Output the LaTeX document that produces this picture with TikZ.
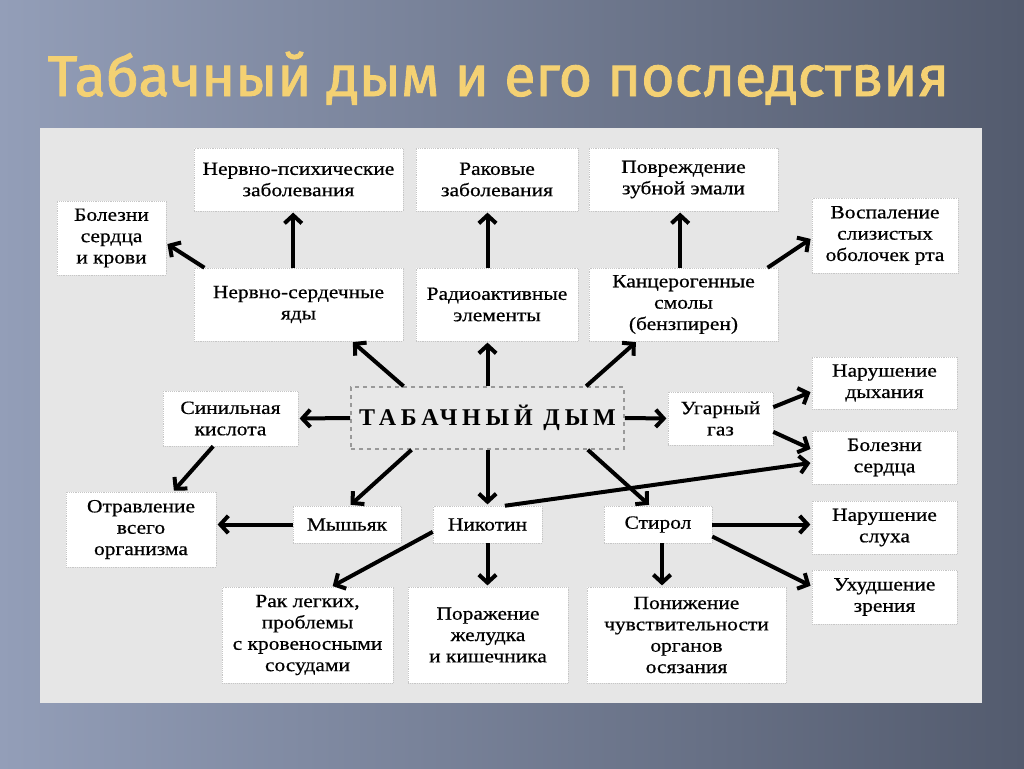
\documentclass[tikz,border=0pt]{standalone}
\usepackage{fontspec}
\setmainfont{Liberation Serif}[FakeStretch=1.15, FakeBold=0.6]
\newfontfamily\titlefont{Fira Sans}[FakeBold=1.5]
\newfontfamily\dymfont{Liberation Serif}[LetterSpace=20]
\usetikzlibrary{arrows.meta}

\definecolor{slidelight}{HTML}{939EB8}
\definecolor{slidedark}{HTML}{535B6E}
\definecolor{panelgray}{HTML}{E6E6E6}
\definecolor{titlegold}{HTML}{F4D173}

\tikzset{
  box/.style={draw=gray!45, densely dotted, fill=white, align=center, inner sep=1pt,
    font=\fontsize{14}{16}\selectfont},
  arr/.style={line width=3pt, -{Straight Barb[length=6pt,width=13pt]}, shorten >=1pt},
}

\begin{document}
\begin{tikzpicture}[x=0.75pt,y=-0.75pt]
\useasboundingbox (0,0) rectangle (1024,768);
% slide
\shade[left color=slidelight,right color=slidedark] (0,0) rectangle (1024,768);
\fill[panelgray] (40,128) rectangle (982,703);
\node[anchor=base, text=titlegold, font=\titlefont\fontsize{43}{48}\selectfont] (title) at (498.5,96) {Табачный дым и его последствия};

% centre
\node[draw=gray!80, dashed, line width=1.2pt, fill=gray!18, minimum width=204.75pt, minimum height=46.5pt,
  font=\dymfont\bfseries\fontsize{18}{20}\selectfont] (dym) at (487.5,418) {ТАБАЧНЫЙ ДЫМ};

% upper rows
\node[box, minimum width=156.75pt, minimum height=47.25pt] (np) at (298.5,179.5) {Нервно-психические\\заболевания};
\node[box, minimum width=121.5pt, minimum height=47.25pt] (rak) at (497,179.5) {Раковые\\заболевания};
\node[box, minimum width=141.75pt, minimum height=47.25pt] (zub) at (683.5,179.5) {Повреждение\\зубной эмали};
\node[box, minimum width=81.75pt, minimum height=55.5pt] (bsk) at (111.5,238) {Болезни\\сердца\\и крови};
\node[box, minimum width=109.5pt, minimum height=56.25pt] (vos) at (885,235.5) {Воспаление\\слизистых\\оболочек рта};
\node[box, minimum width=156.75pt, minimum height=54.75pt] (nsy) at (298.5,304.5) {Нервно-сердечные\\яды};
\node[box, minimum width=121.5pt, minimum height=54.75pt] (rad) at (497,304.5) {Радиоактивные\\элементы};
\node[box, minimum width=141.75pt, minimum height=54.75pt] (kan) at (683.5,304.5) {Канцерогенные\\смолы\\(бензпирен)};

% middle rows
\node[box, minimum width=108.75pt, minimum height=39pt] (ndy) at (884.5,383) {Нарушение\\дыхания};
\node[box, minimum width=101.25pt, minimum height=41.25pt] (sin) at (230.5,418.5) {Синильная\\кислота};
\node[box, minimum width=78.75pt, minimum height=39.75pt] (ugr) at (720.5,418.5) {Угарный\\газ};
\node[box, minimum width=108.75pt, minimum height=39.75pt] (bs) at (884.5,457.5) {Болезни\\сердца};
\node[box, minimum width=112.5pt, minimum height=56.25pt] (otr) at (141,529.5) {Отравление\\всего\\организма};
\node[box, minimum width=81pt, minimum height=27.75pt] (mys) at (347,524.5) {Мышьяк};
\node[box, minimum width=81.75pt, minimum height=27.75pt] (nik) at (487.5,524.5) {Никотин};
\node[box, minimum width=81pt, minimum height=27.75pt] (sti) at (658,524.5) {Стирол};
\node[box, minimum width=108.75pt, minimum height=39.75pt] (nsl) at (884.5,527.5) {Нарушение\\слуха};
\node[box, minimum width=108.75pt, minimum height=40.5pt] (uhu) at (884.5,597) {Ухудшение\\зрения};

% bottom row
\node[box, minimum width=128.25pt, minimum height=72pt] (rlg) at (307.5,635) {Рак легких,\\проблемы\\с кровеносными\\сосудами};
\node[box, minimum width=120pt, minimum height=72pt] (por) at (488,635) {Поражение\\желудка\\и кишечника};
\node[box, minimum width=149.25pt, minimum height=72pt] (pon) at (686.5,635) {Понижение\\чувствительности\\органов\\осязания};

% arrows from the centre
\draw[arr] ([xshift=40pt]dym.north west) -- ([xshift=40pt]nsy.south);
\draw[arr] (dym.north) -- (dym.north |- rad.south);
\draw[arr] ([xshift=-29pt]dym.north east) -- ([xshift=-35pt]kan.south);
\draw[arr] (dym.west) -- (sin.east);
\draw[arr] (dym.east) -- (ugr.west);
\draw[arr] ([xshift=46pt]dym.south west) -- ([xshift=2pt]mys.north);
\draw[arr] (dym.south) -- (nik.north);
\draw[arr] ([xshift=-27.75pt]dym.south east) -- ([xshift=-6pt]sti.north);

% consequences
\draw[arr] ([xshift=-4pt]nsy.north) -- ([xshift=-4pt]np.south);
\draw[arr] ([xshift=8pt]nsy.north west) -- ([yshift=-4pt]bsk.east);
\draw[arr] (dym.north |- rad.north) -- (dym.north |- rak.south);
\draw[arr] ([xshift=-2.5pt]kan.north) -- ([xshift=-2.5pt]zub.south);
\draw[arr] ([xshift=-8pt]kan.north east) -- ([yshift=-2pt]vos.west);
\draw[arr] ([xshift=-13pt]sin.south) -- ([xshift=24pt]otr.north);
\draw[arr] (mys.west) -- (mys.west -| otr.east);
\draw[arr] ([yshift=-5.5pt]nik.west) -- ([xshift=18pt]rlg.north);
\draw[arr] (nik.south) -- (nik.south |- por.north);
\draw[arr] ([xshift=13pt]nik.north) -- ([yshift=-4pt]bs.west);
\draw[arr] ([yshift=8.5pt]ugr.east) -- ([yshift=-6.5pt]ndy.west);
\draw[arr] ([yshift=-10pt]ugr.east) -- ([yshift=6pt]bs.west);
\draw[arr] (sti.east) -- (sti.east -| nsl.west);
\draw[arr] ([yshift=-9pt]sti.east) -- ([yshift=8pt]uhu.west);
\draw[arr] ([xshift=3pt]sti.south) -- ([xshift=3pt]sti.south |- pon.north);
\end{tikzpicture}
\end{document}
